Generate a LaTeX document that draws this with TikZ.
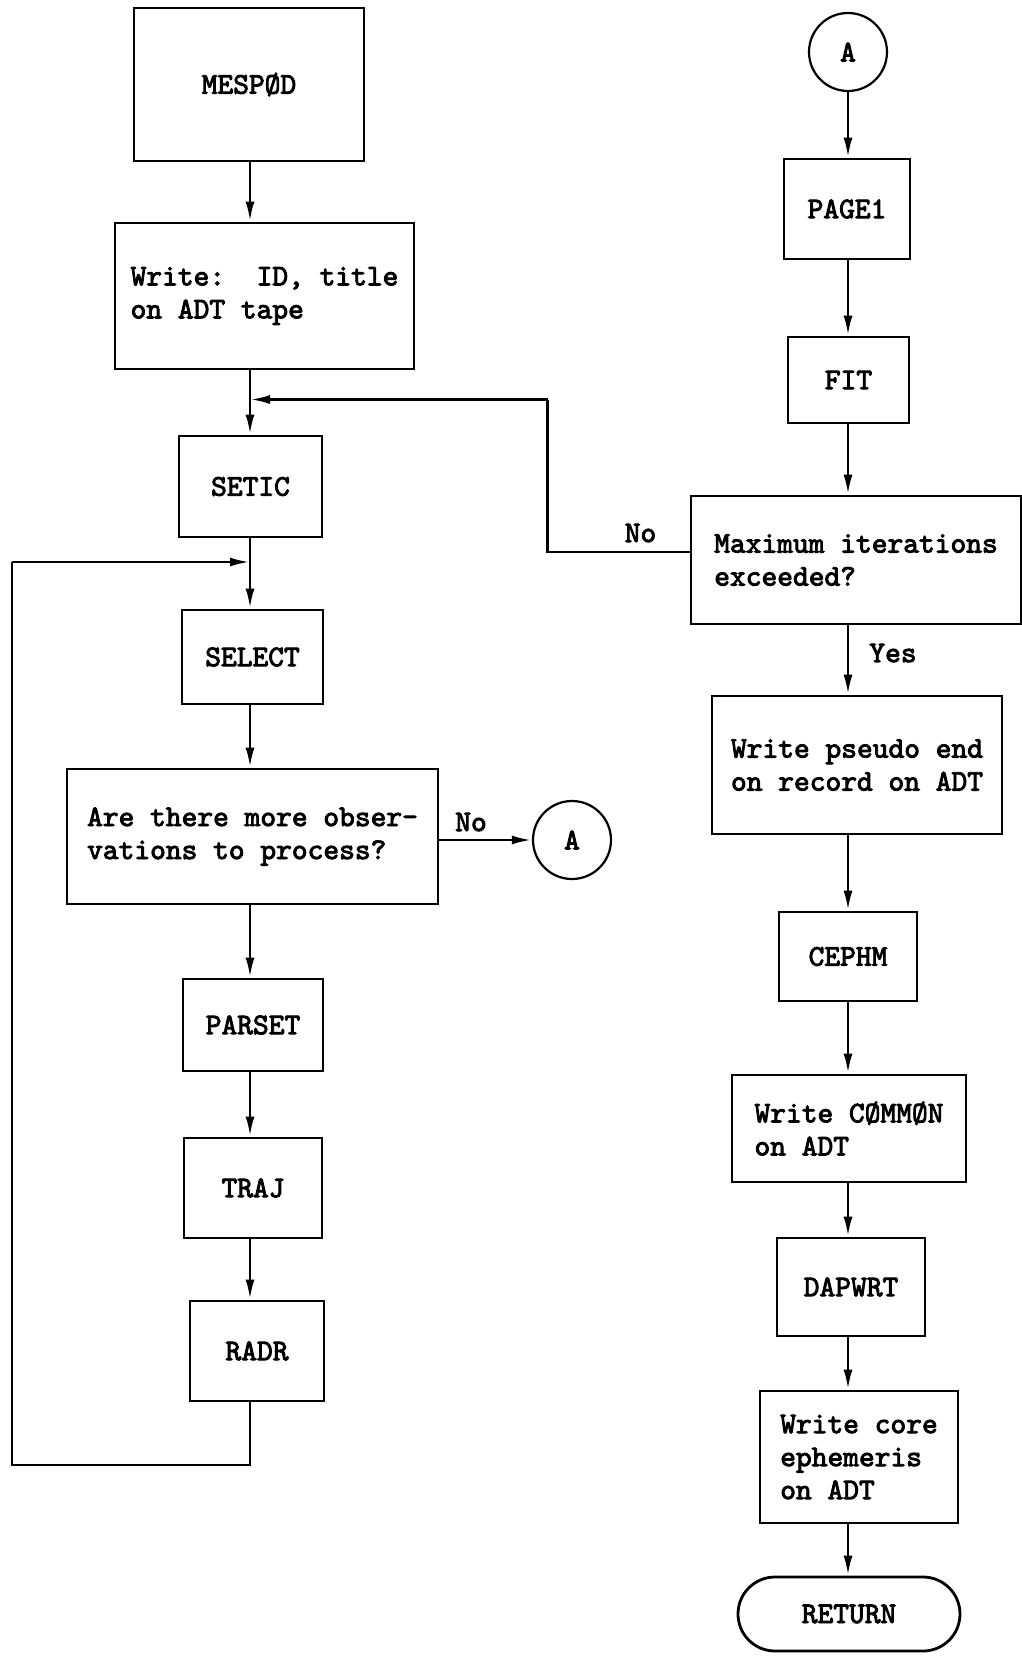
\documentclass[tikz,border=0pt]{standalone}
\usepackage{fontspec}
\setmonofont{lmmono10-regular.otf}[FakeBold=3]
\usetikzlibrary{arrows.meta}
\begin{document}
\begin{tikzpicture}[x=1pt,y=-1pt,
  font=\ttfamily\fontsize{30}{33}\selectfont,
  line width=2.8pt,
  box/.style={draw, line width=2.8pt, inner sep=0pt, align=left},
  sz/.style 2 args={minimum width=#1, minimum height=#2},
  conn/.style={draw, circle, line width=2.2pt, minimum size=78pt, inner sep=0pt},
  arr/.style={-{Latex[length=20pt,width=9pt]}},
  lbl/.style={inner sep=0pt}]
\useasboundingbox[fill=white] (0,0) rectangle (1022,1658);

% left column: setup and observation loop
\node[box, sz={230}{153}] (mespod) at (249,84.5) {MESPØD};
\node[box, sz={299}{146}] (write) at (264.5,296) {Write:\ \ ID, title\\on ADT tape};
\coordinate (jtop) at (250,399.5);
\node[box, sz={143}{101}] (setic) at (250.5,486.5) {SETIC};
\coordinate (jloop) at (250,562);
\node[box, sz={141}{94}] (select) at (252.5,657) {SELECT};
\node[box, sz={371}{135}] (obs) at (252.5,836.5) {Are there more obser-\\vations to process?};
\node[conn] (aout) at (572,840) {A};
\node[lbl] (noobs) at (471,822) {No};
\node[box, sz={140}{92}] (parset) at (253,1025) {PARSET};
\node[box, sz={138}{100}] (traj) at (253,1188) {TRAJ};
\node[box, sz={134}{100}] (radr) at (257,1351) {RADR};
\coordinate (lbot) at (250,1465);
\coordinate (lbotl) at (12,1465);
\coordinate (ltopl) at (12,562);

% right column: fit and output
\node[conn] (ain) at (848,52) {A};
\node[box, sz={126}{100}] (page1) at (847,209) {PAGE1};
\node[box, sz={121}{86}] (fit) at (848.5,380) {FIT};
\node[box, sz={330}{128}] (maxit) at (856,560) {Maximum iterations\\exceeded?};
\coordinate (nobend) at (547.5,552);
\coordinate (noup) at (547.5,399.5);
\node[lbl] (nomax) at (640.5,533) {No};
\node[lbl] (yesmax) at (893,653) {Yes};
\node[box, sz={290}{138}] (pseudo) at (857,765) {Write pseudo end\\on record on ADT};
\node[box, sz={138}{89}] (cephm) at (848,956.5) {CEPHM};
\node[box, sz={234}{107}] (common) at (849,1128.5) {Write CØMMØN\\on ADT};
\node[box, sz={148}{98}] (dapwrt) at (851,1287) {DAPWRT};
\node[box, sz={198}{132}] (core) at (859,1457) {Write core\\ephemeris\\on ADT};
\node[box, sz={222}{74}, rounded corners=37pt] (ret) at (849,1614) {RETURN};

% left connectors
\draw[arr] (mespod.south -| jtop) -- (write.north -| jtop);
\draw[arr] (write.south -| jtop) -- (setic.north -| jtop);
\draw[arr] (setic.south -| jtop) -- (select.north -| jtop);
\draw[arr] (select.south -| jtop) -- (obs.north -| jtop);
\draw[arr] (obs.east |- aout) -- (aout.west);
\draw[arr] (obs.south -| jtop) -- (parset.north -| jtop);
\draw[arr] (parset.south -| jtop) -- (traj.north -| jtop);
\draw[arr] (traj.south -| jtop) -- (radr.north -| jtop);
\draw (radr.south -| jtop) -- (lbot) -- (lbotl) -- (ltopl);
\draw[arr] (ltopl) -- (jloop);

% right connectors
\draw[arr] (ain) -- (page1.north -| ain);
\draw[arr] (page1.south -| ain) -- (fit.north -| ain);
\draw[arr] (fit.south -| ain) -- (maxit.north -| ain);
\draw (maxit.west |- nobend) -- (nobend) -- (noup);
\draw[arr] (noup) -- (jtop);
\draw[arr] (maxit.south -| ain) -- (pseudo.north -| ain);
\draw[arr] (pseudo.south -| ain) -- (cephm.north -| ain);
\draw[arr] (cephm.south -| ain) -- (common.north -| ain);
\draw[arr] (common.south -| ain) -- (dapwrt.north -| ain);
\draw[arr] (dapwrt.south -| ain) -- (core.north -| ain);
\draw[arr] (core.south -| ain) -- (ret.north -| ain);
\end{tikzpicture}
\end{document}
